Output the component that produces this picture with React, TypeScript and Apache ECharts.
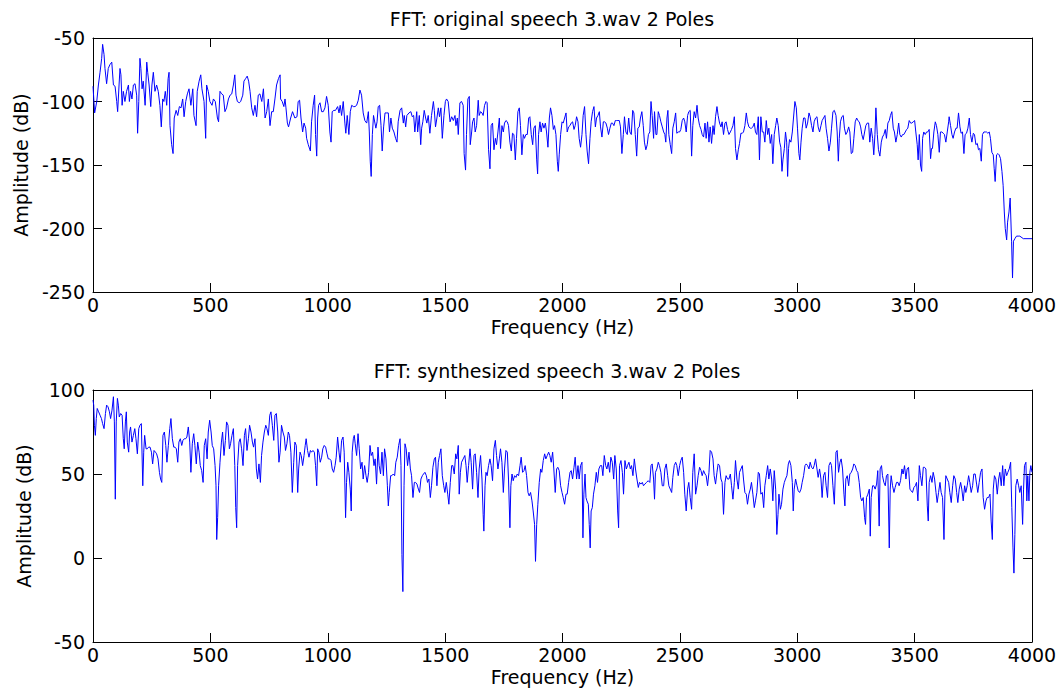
import React, { useEffect, useRef } from "react";
import * as echarts from "echarts";

const topTitle = "FFT: original speech 3.wav 2 Poles";
const bottomTitle = "FFT: synthesized speech 3.wav 2 Poles";
const xName = "Frequency (Hz)";
const yName = "Amplitude (dB)";

// [Hz, dB]
const topSpectrum: [number, number][] = [
  [0,-88],[7,-109],[16,-100],[23,-87],[30,-77],[37,-66],[41,-55],[47,-63],[51,-74],[58,-86],[65,-74],[72,-71],[80,-69],[87,-87],[94,-88],[101,-100],[105,-108],[111,-87],[115,-74],[119,-79],[124,-103],[129,-92],[136,-100],[143,-92],[151,-87],[155,-100],[160,-92],[166,-98],[172,-87],[179,-86],[186,-95],[190,-125],[195,-100],[200,-66],[204,-74],[209,-90],[214,-84],[222,-103],[229,-69],[233,-77],[239,-87],[246,-104],[251,-87],[257,-77],[264,-92],[271,-87],[278,-92],[285,-103],[291,-120],[297,-98],[302,-100],[308,-92],[314,-103],[320,-82],[324,-77],[328,-119],[335,-134],[341,-141],[346,-113],[354,-107],[361,-111],[368,-104],[375,-105],[382,-98],[388,-112],[395,-100],[402,-94],[409,-90],[417,-103],[425,-90],[430,-111],[439,-119],[444,-92],[452,-84],[459,-79],[464,-90],[473,-100],[480,-129],[484,-87],[491,-92],[498,-100],[507,-103],[513,-98],[521,-100],[530,-113],[535,-116],[541,-92],[548,-94],[555,-95],[562,-108],[569,-105],[577,-98],[584,-95],[591,-94],[598,-87],[604,-79],[609,-95],[615,-100],[623,-101],[629,-100],[638,-95],[643,-84],[650,-82],[657,-80],[663,-84],[669,-92],[676,-105],[683,-111],[690,-103],[697,-112],[704,-95],[711,-94],[719,-100],[726,-90],[733,-113],[740,-108],[747,-98],[754,-119],[761,-108],[768,-108],[775,-98],[782,-87],[790,-82],[797,-79],
  [799,-98],[806,-100],[813,-104],[818,-98],[822,-105],[828,-117],[833,-120],[842,-113],[850,-108],[860,-113],[869,-112],[874,-100],[880,-99],[886,-113],[893,-124],[899,-117],[906,-121],[910,-129],[917,-134],[926,-139],[931,-116],[938,-103],[944,-95],[948,-126],[953,-143],[957,-113],[961,-103],[967,-101],[974,-108],[981,-108],[988,-105],[995,-96],[1002,-103],[1009,-124],[1014,-132],[1019,-108],[1026,-107],[1033,-107],[1042,-104],[1048,-109],[1053,-103],[1059,-111],[1066,-100],[1073,-117],[1077,-125],[1083,-111],[1090,-126],[1096,-108],[1102,-103],[1109,-104],[1116,-104],[1123,-103],[1130,-99],[1137,-91],[1144,-95],[1151,-109],[1158,-115],[1166,-117],[1173,-108],[1177,-124],[1181,-147],[1185,-159],[1190,-126],[1195,-111],[1201,-117],[1205,-121],[1210,-116],[1215,-104],[1221,-103],[1227,-119],[1232,-139],[1238,-120],[1244,-109],[1251,-109],[1258,-109],[1263,-124],[1269,-113],[1275,-121],[1282,-124],[1289,-129],[1295,-132],[1300,-116],[1308,-107],[1315,-105],[1322,-117],[1326,-111],[1332,-120],[1337,-111],[1346,-109],[1354,-108],[1360,-112],[1366,-111],[1371,-124],[1379,-108],[1383,-124],[1390,-111],[1396,-134],[1400,-121],[1405,-116],[1411,-107],[1417,-113],[1422,-117],[1428,-111],[1435,-125],[1442,-111],[1450,-100],[1454,-107],[1459,-120],[1465,-113],[1471,-105],[1476,-112],[1482,-105],[1488,-129],[1495,-111],[1501,-100],[1506,-98],[1513,-100],[1521,-116],[1528,-112],[1535,-115],[1542,-111],[1546,-119],[1552,-113],[1556,-126],[1563,-101],[1570,-100],[1577,-103],[1581,-141],[1587,-154],
  [1591,-126],[1597,-98],[1603,-96],[1607,-134],[1613,-124],[1617,-116],[1623,-113],[1628,-124],[1634,-119],[1641,-99],[1645,-111],[1651,-108],[1657,-109],[1662,-111],[1668,-103],[1674,-100],[1679,-101],[1685,-138],[1691,-153],[1696,-119],[1702,-117],[1708,-138],[1714,-129],[1719,-134],[1725,-124],[1731,-113],[1736,-137],[1742,-119],[1748,-124],[1753,-117],[1759,-115],[1765,-116],[1770,-119],[1776,-132],[1782,-139],[1787,-125],[1793,-126],[1799,-146],[1804,-129],[1810,-108],[1816,-105],[1821,-119],[1827,-142],[1833,-126],[1838,-129],[1844,-126],[1850,-126],[1856,-113],[1861,-112],[1867,-126],[1873,-134],[1878,-121],[1884,-119],[1890,-146],[1894,-157],[1898,-126],[1904,-116],[1909,-124],[1915,-117],[1921,-121],[1927,-117],[1932,-124],[1938,-136],[1944,-113],[1949,-105],[1955,-111],[1961,-122],[1966,-119],[1972,-126],[1978,-147],[1982,-155],[1986,-142],[1992,-126],[1998,-116],[2003,-117],[2009,-113],[2015,-109],[2020,-124],[2026,-120],[2032,-119],[2037,-117],[2043,-116],[2049,-122],[2054,-119],[2060,-112],[2066,-116],[2071,-129],[2077,-136],[2083,-126],[2088,-111],[2094,-104],[2100,-126],[2105,-139],[2111,-149],[2117,-129],[2122,-116],[2128,-108],[2134,-104],[2140,-120],[2145,-113],[2151,-111],[2157,-108],[2162,-120],[2168,-128],[2174,-116],[2179,-116],[2185,-117],[2191,-121],[2196,-126],[2202,-121],[2208,-117],[2213,-117],[2219,-119],[2225,-115],[2230,-115],[2236,-115],[2242,-115],[2247,-120],[2253,-141],[2259,-126],[2264,-112],[2270,-124],[2276,-126],[2282,-113],[2287,-124],[2293,-126],[2299,-107],[2304,-109],[2310,-126],[2316,-143],[2321,-121],[2327,-120],[2332,-113],[2338,-108],[2344,-119],[2349,-132],[2355,-138],[2361,-134],[2366,-126],[2372,-124],
  [2377,-100],[2382,-111],[2388,-129],[2392,-108],[2398,-126],[2402,-126],[2408,-108],[2413,-111],[2419,-116],[2425,-120],[2431,-124],[2436,-126],[2440,-132],[2445,-113],[2449,-107],[2453,-126],[2459,-134],[2465,-141],[2470,-121],[2476,-116],[2482,-109],[2487,-125],[2493,-124],[2499,-124],[2504,-122],[2510,-115],[2516,-113],[2521,-116],[2527,-124],[2533,-111],[2538,-108],[2544,-107],[2550,-143],[2555,-119],[2561,-108],[2567,-113],[2573,-103],[2578,-113],[2584,-119],[2590,-122],[2595,-126],[2601,-128],[2607,-117],[2612,-129],[2618,-116],[2624,-132],[2629,-120],[2635,-133],[2641,-119],[2646,-126],[2652,-112],[2658,-104],[2663,-111],[2669,-117],[2675,-120],[2680,-116],[2686,-126],[2692,-117],[2697,-116],[2703,-122],[2709,-126],[2715,-124],[2720,-122],[2726,-119],[2732,-112],[2737,-137],[2743,-146],[2749,-138],[2754,-133],[2760,-125],[2766,-125],[2771,-124],[2777,-119],[2783,-109],[2788,-116],[2794,-120],[2800,-121],[2805,-121],[2811,-120],[2817,-117],[2822,-124],[2828,-126],[2834,-112],[2839,-146],[2845,-112],[2851,-124],[2857,-124],[2862,-132],[2868,-115],[2874,-126],[2879,-121],[2885,-133],[2891,-126],[2896,-149],[2902,-126],[2908,-119],[2913,-113],[2919,-119],[2925,-132],[2930,-136],[2935,-155],[2939,-146],[2945,-137],[2950,-124],[2955,-132],[2959,-159],[2963,-137],[2967,-130],[2973,-132],[2979,-124],[2984,-113],[2990,-100],[2996,-105],[3001,-121],[3007,-141],[3011,-146],[3016,-132],[3021,-121],[3027,-113],[3033,-113],[3038,-121],[3044,-117],[3050,-109],[3055,-112],[3061,-119],[3067,-124],[3072,-116],[3078,-113],[3084,-112],[3089,-120],[3095,-124],[3101,-119],[3106,-115],[3112,-113],[3118,-111],[3123,-121],[3129,-129],[3135,-139],[3141,-132],[3146,-121],[3152,-108],[3158,-107],
  [3165,-111],[3170,-124],[3175,-147],[3179,-129],[3184,-116],[3190,-112],[3196,-111],[3201,-121],[3207,-126],[3213,-124],[3219,-120],[3224,-124],[3230,-141],[3236,-140],[3241,-129],[3247,-116],[3253,-113],[3258,-115],[3264,-116],[3270,-120],[3275,-126],[3281,-130],[3287,-124],[3292,-119],[3298,-117],[3304,-117],[3309,-132],[3315,-121],[3321,-129],[3326,-142],[3331,-126],[3335,-105],[3341,-126],[3346,-138],[3352,-143],[3358,-132],[3363,-128],[3369,-126],[3375,-122],[3380,-129],[3386,-117],[3392,-115],[3397,-111],[3403,-108],[3409,-121],[3414,-124],[3420,-132],[3426,-126],[3432,-117],[3437,-126],[3443,-128],[3449,-126],[3454,-126],[3460,-124],[3466,-122],[3471,-121],[3477,-115],[3483,-117],[3488,-117],[3494,-116],[3500,-115],[3505,-124],[3511,-134],[3515,-146],[3520,-126],[3525,-150],[3530,-155],[3534,-129],[3539,-124],[3545,-126],[3551,-124],[3556,-124],[3562,-122],[3568,-145],[3572,-137],[3576,-137],[3582,-124],[3588,-116],[3593,-119],[3599,-126],[3605,-140],[3610,-124],[3616,-124],[3622,-125],[3627,-126],[3633,-132],[3639,-124],[3645,-116],[3647,-112],[3653,-119],[3659,-126],[3664,-129],[3670,-124],[3676,-121],[3681,-121],[3687,-109],[3693,-120],[3698,-125],[3704,-124],[3710,-141],[3715,-126],[3721,-125],[3727,-121],[3733,-113],[3738,-126],[3744,-132],[3750,-125],[3755,-126],[3761,-134],[3767,-133],[3772,-138],[3778,-137],[3784,-147],[3789,-126],[3795,-124],[3801,-124],[3806,-124],[3812,-125],[3818,-124],[3823,-129],[3829,-140],[3835,-142],[3839,-153],[3843,-163],[3849,-142],[3855,-141],[3860,-142],[3866,-145],[3872,-155],[3877,-166],[3882,-187],[3886,-200],[3892,-209],[3896,-195],[3902,-187],[3907,-176],[3913,-210],[3917,-239],[3921,-210],[3927,-208],[3934,-206],[3941,-206],[3948,-206],[3963,-208],[4000,-208],
];

const bottomSpectrum: [number, number][] = [
  [0,94],[3,91],[6,79],[10,73],[14,83],[18,89],[24,87],[30,85],[36,83],[41,80],[47,77],[53,86],[58,91],[64,90],[70,87],[75,83],[81,88],[87,96],[91,81],[95,35],[99,81],[104,95],[108,91],[112,84],[118,86],[124,85],[129,71],[133,65],[138,81],[142,87],[146,69],[152,63],[156,75],[160,78],[166,69],[172,73],[178,77],[183,71],[189,62],[195,77],[200,79],[206,80],[212,43],[216,63],[220,73],[226,65],[231,65],[237,66],[243,66],[249,63],[254,56],[260,64],[266,63],[271,62],[277,59],[283,51],[288,47],[293,45],[298,73],[304,75],[310,67],[315,57],[321,67],[327,77],[332,83],[338,71],[344,66],[349,66],[355,65],[361,57],[366,69],[372,71],[378,67],[383,70],[389,71],[395,71],[400,72],[406,78],[412,69],[417,51],[423,68],[429,74],[434,67],[440,56],[446,69],[452,63],[457,55],[463,52],[469,45],[474,67],[480,71],[486,59],[491,75],[497,82],[503,75],[508,67],[514,65],[520,55],[524,43],[527,11],[531,24],[535,43],[541,57],[547,69],[552,75],[558,61],[564,70],[569,81],[575,79],[581,65],[586,68],[592,73],[598,77],[604,55],[608,30],[612,18],[616,55],[622,69],[627,71],[633,65],[639,55],[645,73],[650,77],[656,64],[662,71],[667,79],[673,75],[679,69],[684,66],[690,71],[696,53],[701,47],[707,56],[713,45],[718,61],[724,69],[730,75],[736,79],[741,77],[747,73],[753,85],[758,87],[764,79],[770,70],[775,85],[781,86],[787,75],[792,57],[797,63],
  [803,79],[809,75],[815,72],[820,64],[826,68],[832,75],[837,73],[843,63],[849,39],[855,57],[860,69],[866,67],[872,39],[876,53],[882,63],[887,61],[893,55],[899,61],[904,67],[908,71],[914,64],[920,60],[926,64],[931,63],[937,64],[943,63],[948,55],[953,43],[957,65],[962,63],[968,57],[974,60],[979,65],[985,67],[991,66],[997,62],[1002,59],[1008,59],[1014,58],[1019,53],[1025,51],[1031,55],[1036,60],[1042,72],[1048,63],[1053,57],[1059,70],[1065,72],[1070,63],[1076,24],[1080,45],[1085,57],[1090,51],[1096,41],[1100,28],[1104,63],[1109,71],[1113,73],[1117,68],[1123,61],[1129,74],[1134,65],[1140,53],[1146,57],[1151,47],[1157,55],[1163,49],[1168,45],[1174,51],[1180,67],[1185,61],[1191,63],[1197,55],[1202,59],[1208,44],[1214,66],[1219,55],[1225,50],[1231,63],[1237,49],[1242,65],[1248,59],[1254,43],[1258,31],[1262,39],[1268,49],[1273,49],[1279,50],[1285,49],[1290,57],[1296,60],[1302,67],[1308,71],[1312,55],[1316,2],[1320,-20],[1325,43],[1329,68],[1334,65],[1340,55],[1346,63],[1352,53],[1357,49],[1363,36],[1369,45],[1374,45],[1380,44],[1386,41],[1391,39],[1397,47],[1403,49],[1408,50],[1414,51],[1420,49],[1425,45],[1431,47],[1437,36],[1442,43],[1448,54],[1454,59],[1459,60],[1465,43],[1471,57],[1476,61],[1482,65],[1488,49],[1494,43],[1499,39],[1505,45],[1511,38],[1516,32],[1522,45],[1528,55],[1533,55],[1539,50],[1545,62],[1550,59],[1556,67],[1560,38],[1565,51],[1570,57],[1577,59],[1584,61],
  [1589,55],[1594,45],[1600,55],[1606,65],[1611,57],[1617,41],[1623,61],[1628,62],[1634,51],[1640,36],[1645,53],[1651,61],[1657,47],[1662,26],[1665,16],[1670,43],[1674,51],[1679,49],[1685,55],[1691,59],[1696,55],[1702,46],[1708,65],[1714,70],[1719,61],[1725,53],[1731,59],[1736,65],[1742,57],[1748,39],[1753,53],[1759,64],[1765,63],[1770,47],[1776,18],[1780,43],[1785,50],[1790,46],[1796,49],[1802,48],[1807,50],[1813,49],[1819,55],[1824,60],[1830,51],[1836,52],[1841,55],[1847,49],[1853,39],[1858,37],[1864,39],[1870,34],[1875,28],[1881,20],[1885,-2],[1890,20],[1895,32],[1901,45],[1907,53],[1912,51],[1918,58],[1924,62],[1929,59],[1935,61],[1941,63],[1946,61],[1952,57],[1958,63],[1963,53],[1969,39],[1975,53],[1980,54],[1986,52],[1992,43],[1998,39],[2003,36],[2009,32],[2015,38],[2020,38],[2026,45],[2032,51],[2037,52],[2043,47],[2049,54],[2054,60],[2060,47],[2066,55],[2071,47],[2077,55],[2083,57],[2087,12],[2091,38],[2096,50],[2100,36],[2104,34],[2110,32],[2114,20],[2118,6],[2122,28],[2127,30],[2132,38],[2138,43],[2144,51],[2149,45],[2155,53],[2161,55],[2167,55],[2172,49],[2178,61],[2184,55],[2189,53],[2195,57],[2201,51],[2206,60],[2212,57],[2218,47],[2223,61],[2229,53],[2235,28],[2239,18],[2243,55],[2249,58],[2255,51],[2260,38],[2266,58],[2272,53],[2277,55],[2283,57],[2289,53],[2294,55],[2300,49],[2306,59],[2311,53],[2317,47],[2323,42],[2328,45],[2334,44],[2340,45],[2345,43],[2351,44],[2358,45],[2365,46],[2372,45],
  [2377,55],[2382,56],[2388,47],[2392,35],[2396,51],[2402,53],[2408,57],[2413,55],[2419,51],[2425,43],[2431,43],[2436,53],[2442,56],[2448,49],[2453,43],[2459,41],[2465,39],[2470,48],[2476,55],[2482,57],[2487,55],[2493,49],[2499,55],[2504,58],[2510,60],[2516,51],[2521,38],[2527,28],[2533,41],[2538,45],[2544,36],[2550,29],[2555,51],[2561,62],[2567,38],[2573,43],[2578,49],[2584,54],[2590,52],[2595,49],[2601,52],[2607,50],[2612,49],[2618,43],[2624,51],[2629,64],[2635,63],[2641,59],[2646,49],[2652,44],[2658,51],[2663,56],[2669,55],[2675,47],[2680,45],[2686,26],[2692,45],[2697,49],[2703,47],[2709,47],[2715,50],[2720,43],[2726,35],[2732,45],[2737,58],[2743,47],[2749,41],[2754,51],[2760,53],[2766,55],[2771,47],[2777,39],[2783,38],[2788,32],[2794,38],[2800,41],[2805,45],[2811,38],[2817,30],[2822,34],[2828,39],[2834,51],[2839,50],[2845,38],[2851,39],[2857,30],[2862,43],[2868,49],[2874,55],[2879,47],[2885,53],[2891,47],[2896,34],[2902,52],[2908,41],[2913,14],[2918,26],[2922,38],[2928,29],[2933,32],[2939,41],[2945,45],[2950,47],[2956,49],[2962,56],[2967,58],[2973,55],[2979,45],[2983,28],[2987,41],[2993,47],[2999,43],[3004,40],[3010,39],[3016,41],[3021,45],[3027,49],[3033,55],[3038,56],[3044,55],[3050,53],[3055,57],[3061,54],[3067,53],[3072,55],[3078,59],[3084,53],[3089,48],[3095,53],[3101,47],[3106,36],[3112,49],[3118,51],[3123,43],[3129,36],[3135,55],[3141,57],[3146,55],[3152,43],[3158,32],
  [3165,63],[3170,64],[3176,51],[3182,57],[3187,59],[3193,53],[3199,38],[3203,31],[3207,47],[3213,49],[3219,43],[3224,50],[3230,51],[3236,53],[3241,56],[3247,55],[3253,52],[3258,51],[3264,45],[3270,36],[3275,34],[3281,36],[3287,24],[3291,20],[3295,36],[3301,38],[3307,41],[3311,13],[3315,36],[3321,43],[3326,43],[3332,41],[3338,44],[3343,52],[3349,19],[3353,53],[3359,55],[3363,49],[3369,45],[3375,43],[3380,49],[3386,50],[3392,6],[3396,41],[3400,49],[3406,43],[3412,39],[3417,42],[3423,45],[3429,45],[3434,43],[3440,46],[3446,53],[3451,50],[3457,55],[3463,47],[3468,53],[3474,54],[3480,41],[3485,40],[3491,39],[3497,42],[3503,43],[3508,45],[3514,34],[3520,55],[3525,49],[3531,43],[3537,54],[3542,54],[3548,53],[3554,31],[3558,22],[3562,45],[3568,49],[3574,45],[3579,51],[3585,47],[3591,39],[3596,33],[3602,39],[3608,45],[3613,39],[3619,36],[3625,11],[3629,38],[3633,49],[3639,47],[3645,45],[3650,39],[3656,33],[3662,43],[3667,49],[3673,47],[3679,39],[3684,33],[3690,41],[3696,45],[3701,41],[3707,34],[3713,43],[3718,39],[3724,43],[3730,49],[3735,45],[3741,39],[3747,43],[3752,50],[3758,50],[3764,44],[3769,39],[3775,45],[3781,51],[3787,53],[3792,36],[3798,29],[3804,34],[3809,36],[3815,36],[3821,38],[3826,22],[3831,11],[3835,41],[3840,49],[3846,47],[3852,38],[3858,47],[3863,51],[3869,43],[3875,55],[3880,43],[3886,53],[3892,49],[3897,51],[3903,53],[3909,57],[3914,30],[3919,6],[3923,-9],[3927,14],[3931,43],[3937,47],[3943,43],[3948,39],[3954,43],[3960,20],[3964,41],[3968,55],[3974,57],[3978,34],[3982,49],[3987,34],[3991,51],[3995,55],[4000,51],
];

const xRange = [0, 4000];
const xStep = 500;
const topYRange = [-250, -50];
const bottomYRange = [-50, 100];
const yStep = 50;

export default function App() {
  const ref = useRef<HTMLDivElement>(null);
  useEffect(() => {
    if (!ref.current) return;
    const chart = echarts.init(ref.current, null, { renderer: "svg" });
    const font = "DejaVu Sans";
    const black = "#000000";
    const tick = { show: true, inside: true, length: 9, lineStyle: { color: black, width: 1 } };
    const line = { show: true, onZero: false, lineStyle: { color: black, width: 1 } };
    const label = { color: black, fontFamily: font, fontSize: 19, formatter: (v: number) => String(v) };

    const xAxes: any[] = [];
    const yAxes: any[] = [];
    [0, 1].forEach((g) => {
      xAxes.push({
        type: "value", gridIndex: g, position: "bottom", min: xRange[0], max: xRange[1], interval: xStep,
        axisLine: line, axisTick: tick, splitLine: { show: false },
        axisLabel: { ...label, margin: 3 },
        name: xName, nameLocation: "middle", nameGap: 25,
        nameTextStyle: { color: black, fontFamily: font, fontSize: 19, verticalAlign: "top" },
      });
      xAxes.push({
        type: "value", gridIndex: g, position: "top", min: xRange[0], max: xRange[1], interval: xStep,
        axisLine: line, axisTick: tick, splitLine: { show: false }, axisLabel: { show: false },
      });
      const yr = g === 0 ? topYRange : bottomYRange;
      yAxes.push({
        type: "value", gridIndex: g, position: "left", min: yr[0], max: yr[1], interval: yStep,
        axisLine: line, axisTick: tick, splitLine: { show: false },
        axisLabel: { ...label, margin: 8 },
        name: yName, nameLocation: "middle", nameGap: 60, nameRotate: 90,
        nameTextStyle: { color: black, fontFamily: font, fontSize: 19 },
      });
      yAxes.push({
        type: "value", gridIndex: g, position: "right", min: yr[0], max: yr[1], interval: yStep,
        axisLine: line, axisTick: tick, splitLine: { show: false }, axisLabel: { show: false },
      });
    });

    chart.setOption({
      animation: false,
      backgroundColor: "#ffffff",
      grid: [
        { left: 93, top: 38, width: 939, height: 254 },
        { left: 93, top: 390, width: 939, height: 252 },
      ],
      graphic: [
        { type: "text", x: 552, y: 19, style: { text: topTitle, fill: black, font: `19px "${font}"`, textAlign: "center", textVerticalAlign: "middle" } },
        { type: "text", x: 557, y: 371, style: { text: bottomTitle, fill: black, font: `19px "${font}"`, textAlign: "center", textVerticalAlign: "middle" } },
      ],
      xAxis: xAxes,
      yAxis: yAxes,
      series: [
        {
          type: "line", xAxisIndex: 0, yAxisIndex: 0, data: topSpectrum, showSymbol: false, symbol: "none",
          lineStyle: { color: "#0000ff", width: 1 }, silent: true,
        },
        {
          type: "line", xAxisIndex: 2, yAxisIndex: 2, data: bottomSpectrum, showSymbol: false, symbol: "none",
          lineStyle: { color: "#0000ff", width: 1 }, silent: true,
        },
      ],
    });
    return () => chart.dispose();
  }, []);
  return <div ref={ref} style={{ position: "fixed", left: 0, top: 0, width: 1061, height: 691 }} />;
}
